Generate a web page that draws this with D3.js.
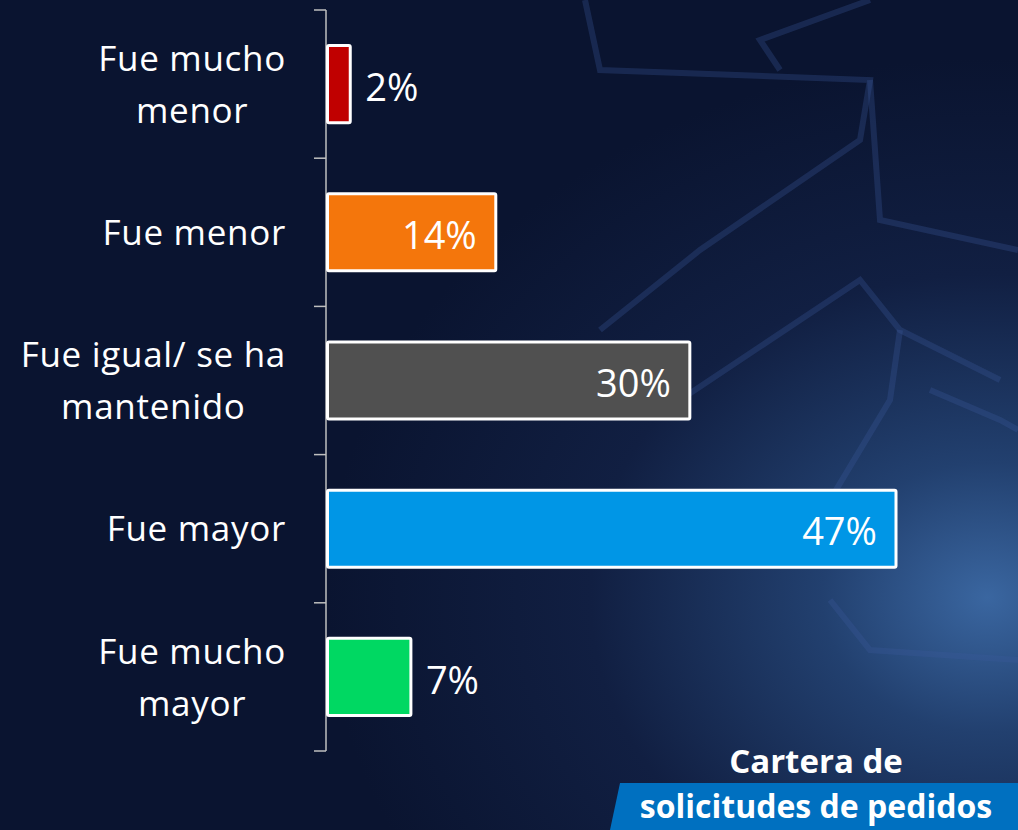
<!DOCTYPE html>
<html><head><meta charset="utf-8">
<script src="https://cdn.jsdelivr.net/npm/d3@7"></script>
<style>html,body{margin:0;padding:0;background:#0b1630;overflow:hidden}</style>
</head><body>
<svg id="chart" width="1018" height="830"></svg>
<script>
const categories = [["Fue mucho","menor"],["Fue menor"],["Fue igual/ se ha","mantenido"],["Fue mayor"],["Fue mucho","mayor"]];
const values = [2, 14, 30, 47, 7];
const colors = ["#C00000", "#F4760C", "#505050", "#0096E6", "#00D862"];
const valueLabels = ["2%", "14%", "30%", "47%", "7%"];
const titleLines = ["Cartera de", "solicitudes de pedidos"];

const svg = d3.select("#chart");
const W = 1018, H = 830;
const defs = svg.append("defs");
const rg = defs.append("radialGradient").attr("id","bg").attr("cx","0.97").attr("cy","0.72").attr("r","0.65");
rg.append("stop").attr("offset","0").attr("stop-color","#3a66a0");
rg.append("stop").attr("offset","0.25").attr("stop-color","#22406f");
rg.append("stop").attr("offset","0.6").attr("stop-color","#111f42");
rg.append("stop").attr("offset","1").attr("stop-color","#0a1430");
svg.append("rect").attr("width",W).attr("height",H).attr("fill","url(#bg)");

// faint decorative shapes
const deco = svg.append("g").attr("fill","none").attr("stroke","#3a5a9a").attr("stroke-opacity",0.3).attr("stroke-width",6);
deco.append("path").attr("d","M585,0 L600,70 L870,80 L860,140 L700,250 L600,330");
deco.append("path").attr("d","M780,70 L760,40 L870,0");
deco.append("path").attr("d","M870,80 L880,220 L1018,250");
deco.append("path").attr("d","M680,400 L860,280 L900,330 L1000,380");
deco.append("path").attr("d","M900,330 L890,400 L830,500");
deco.append("path").attr("d","M930,390 L1000,420 L1018,430");
deco.append("path").attr("d","M830,600 L870,650 L1018,660");

const x0 = 326;
const x = d3.scaleLinear().domain([0, 47]).range([0, 570]);
const y = d3.scaleBand().domain(d3.range(categories.length)).range([10, 751]).padding(0);
const barFrac = 0.52;

// axis
const ag = svg.append("g").attr("transform",`translate(${x0},0)`);
ag.append("line").attr("x1",0).attr("x2",0).attr("y1",10).attr("y2",751).attr("stroke","#bfbfbf").attr("stroke-width",1.5);
const tickYs = d3.range(categories.length).map(i => y(i)).concat([y(categories.length-1)+y.bandwidth()]);
ag.selectAll("line.t").data(tickYs).join("line").attr("class","t")
  .attr("x1",-12).attr("x2",0).attr("y1",d=>d).attr("y2",d=>d).attr("stroke","#bfbfbf").attr("stroke-width",1.5);

// bars
const bh = y.bandwidth()*barFrac;
svg.selectAll("rect.bar").data(values).join("rect").attr("class","bar")
  .attr("x", x0+1.5)
  .attr("y", (d,i)=> y(i)+ (y.bandwidth()-bh)/2)
  .attr("width", d=> x(d)-1.5)
  .attr("height", bh)
  .attr("fill", (d,i)=>colors[i])
  .attr("stroke","#ffffff").attr("stroke-width",3).attr("rx",1.5);

// value labels
const font = "'Open Sans', sans-serif";
svg.selectAll("text.val").data(values).join("text").attr("class","val")
  .attr("x", d => d < 10 ? x0 + x(d) + 15 : x0 + x(d) - 19)
  .attr("y", (d,i)=> y(i)+y.bandwidth()/2)
  .attr("dy","0.44em")
  .attr("text-anchor", d => d < 10 ? "start" : "end")
  .attr("fill","#ffffff").attr("font-family",font).attr("font-size",38)
  .attr("font-weight", d => d < 10 ? 400 : 500)
  .text((d,i)=>valueLabels[i]);

// category labels
const lh = 52;
categories.forEach((lines,i)=>{
  const g = svg.append("g");
  const cy = y(i)+y.bandwidth()/2;
  const ts = lines.map((t,k)=> g.append("text")
    .attr("y", cy + (k - (lines.length-1)/2)*lh)
    .attr("dy","0.36em")
    .attr("text-anchor","middle").attr("fill","#ffffff")
    .attr("font-family",font).attr("font-size",35).attr("letter-spacing",0.7).text(t));
  const maxW = d3.max(ts, t=>t.node().getComputedTextLength());
  ts.forEach(t=>t.attr("x", 286 - maxW/2));
});

// title
svg.append("path").attr("d","M620,783 L1018,783 L1018,830 L610,830 Z").attr("fill","#0070C0");
svg.append("text").attr("x",816).attr("y",761).attr("dy","0.36em").attr("text-anchor","middle")
  .attr("fill","#fff").attr("font-family",font).attr("font-weight",700).attr("font-size",33).text(titleLines[0]);
svg.append("text").attr("x",816).attr("y",818).attr("text-anchor","middle")
  .attr("fill","#fff").attr("font-family",font).attr("font-weight",700).attr("font-size",32).text(titleLines[1]);
</script>
</body></html>
